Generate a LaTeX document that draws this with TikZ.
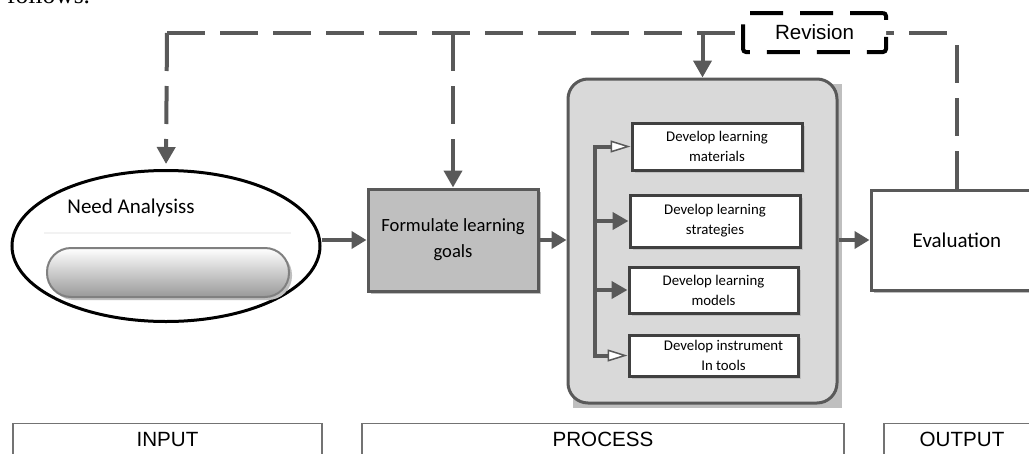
\documentclass[tikz,border=0pt]{standalone}
\usepackage{fontspec}
\setmainfont{Carlito}
\newfontfamily\arialfont{Liberation Sans}
\newfontfamily\timesfont{Liberation Serif}
\usetikzlibrary{arrows.meta,shapes.geometric,shadows}
\definecolor{dgray}{HTML}{595959}
\begin{document}
\begin{tikzpicture}[x=1pt,y=-1pt,
  conn/.style={dgray,line width=4pt,-{Triangle[length=15pt,width=17pt]}},
  loop/.style={dgray,line width=4pt,dash pattern=on 38pt off 15pt},
  looparrow/.style={loop,-{Triangle[length=17pt,width=18pt]}},
  bar/.style={dgray,line width=4pt},
  opentip/.style={-{Triangle[open,fill=white,line width=1.5pt,length=20pt,width=12pt]}},
  filltip/.style={-{Triangle[length=16pt,width=17pt]}},
  shade/.style={drop shadow={shadow xshift=3pt,shadow yshift=-3pt,fill=black!25,opacity=1}},
  devbox/.style={draw=black!75,line width=3pt,fill=white,align=center,shade,
    font=\fontsize{14.8}{20}\selectfont},
  lab/.style={anchor=north,draw=black!55,line width=1.2pt,inner sep=0pt,
    text height=23pt,text depth=40pt,font=\arialfont\fontsize{20.6}{24}\selectfont}]
\path[use as bounding box,clip] (0,0) rectangle (1029,453);
\node[anchor=base west,inner sep=0pt,font=\timesfont\fontsize{25.5}{30}\selectfont] at (7,3) (intro) {follows.};

% input
\node[ellipse,draw=black,line width=3pt,fill=white,minimum width=308,minimum height=151] at (166,246) (need) {};
\node[font=\fontsize{21}{25}\selectfont] at (131,208) (needtxt) {Need Analysiss};
\draw[black!5,line width=2pt] (44,233) -- (291,233);
\node[draw=black!50,line width=2pt,rounded corners=24pt,top color=white,bottom color=black!40,
  minimum width=242,minimum height=49,shade] at (168,272.5) (pill) {};

% goals
\node[draw=dgray,line width=3pt,fill=black!25,minimum width=170,minimum height=102,align=center,
  font=\fontsize{18.6}{26}\selectfont,shade] at (453,240) (goals) {Formulate learning\\goals};

% process
\fill[black!25] (573,84) rectangle (842,408);
\node[draw=dgray,line width=3pt,fill=black!15,rounded corners=20pt,minimum width=269,minimum height=324] at (702.5,241) (proc) {};
\node[devbox,minimum width=170,minimum height=47] at (717,146.5) (m1) {Develop learning\\materials};
\node[devbox,minimum width=170,minimum height=52] at (715,221) (m2) {Develop learning\\strategies};
\node[devbox,minimum width=169,minimum height=46] at (713.5,290) (m3) {Develop learning\\models};
\node[devbox,minimum width=169,minimum height=41] at (713.5,355.5) (m4) {\hspace*{20pt}Develop instrument\\\hspace*{20pt}In tools};
\coordinate (br) at (595,0);
\draw[bar,opentip] (m4.west -| br) -- (m1.west -| br) -- (m1);
\draw[bar,opentip] (m1.west -| br) -- (m4.west -| br) -- (m4);
\draw[bar,filltip] (m2.west -| br) -- (m2);
\draw[bar,filltip] (m3.west -| br) -- (m3);

% output
\node[draw=dgray,line width=3pt,fill=white,minimum width=172,minimum height=100,
  font=\fontsize{21}{25}\selectfont,shade] at (957,240) (eval) {Evaluation};

\draw[conn] (goals.west -| need.east) -- (goals.west);
\draw[conn] (goals.east) -- (goals.east -| proc.west);
\draw[conn] (eval.west -| proc.east) -- (eval.west);

% revision loop
\coordinate (c1) at (167,33); \coordinate (c4) at (957,33);
\draw[loop] (c1) -- (c4);
\draw[looparrow,shorten >=5pt] (c1) -- (need.north);
\draw[looparrow] (c1 -| goals) -- (goals.north);
\draw[looparrow] (c1 -| proc) -- (proc.north);
\draw[loop] (eval.north) -- (c4);
\node[draw=black,line width=4pt,dash pattern=on 33pt off 17pt,rounded corners=3pt,fill=white,
  minimum width=143,minimum height=39,font=\arialfont\fontsize{20.6}{24}\selectfont] at (814.5,32.5) (rev) {Revision};

% labels
\node[lab,minimum width=309] at (167.5,423) (inp) {INPUT};
\node[lab,minimum width=482] at (603,423) (pro) {PROCESS};
\node[lab,minimum width=156] at (962,423) (out) {OUTPUT};
\end{tikzpicture}
\end{document}
